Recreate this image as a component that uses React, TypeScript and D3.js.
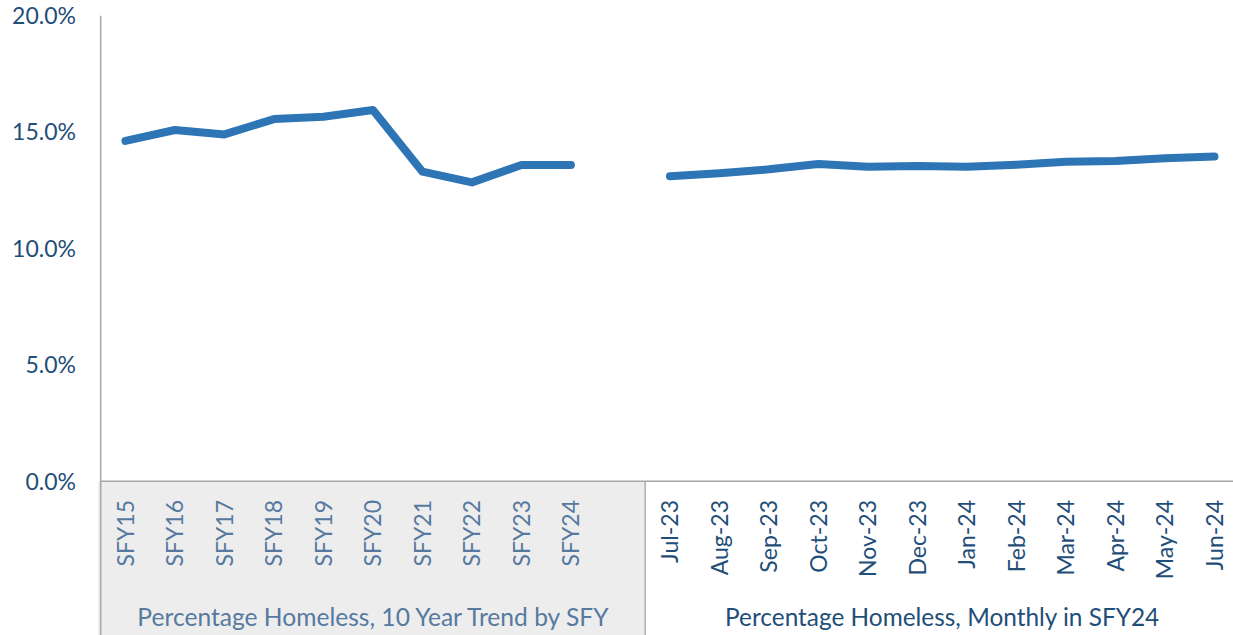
import React from "react";
import * as d3 from "d3";

const yearCategories = ["SFY15", "SFY16", "SFY17", "SFY18", "SFY19", "SFY20", "SFY21", "SFY22", "SFY23", "SFY24"];
const yearValues = [14.62, 15.09, 14.9, 15.56, 15.66, 15.95, 13.3, 12.84, 13.59, 13.59];
const monthCategories = ["Jul-23", "Aug-23", "Sep-23", "Oct-23", "Nov-23", "Dec-23", "Jan-24", "Feb-24", "Mar-24", "Apr-24", "May-24", "Jun-24"];
const monthValues = [13.1, 13.23, 13.4, 13.63, 13.51, 13.54, 13.51, 13.6, 13.73, 13.76, 13.88, 13.95];
const yTicks = [0, 5, 10, 15, 20];
const groupLabels = ["Percentage Homeless, 10 Year Trend by SFY", "Percentage Homeless, Monthly in SFY24"];

const W = 1233;
const H = 635;
const LEFT = 100.7;
const BAND = 49.5;
const TOP = 15.7;
const BASE = 481.3;

const GAP_KEY = "__gap__";
const allKeys = [...yearCategories, GAP_KEY, ...monthCategories];

type Pt = { key: string; v: number | null };
const points: Pt[] = [
  ...yearCategories.map((k, i) => ({ key: k, v: yearValues[i] })),
  { key: GAP_KEY, v: null },
  ...monthCategories.map((k, i) => ({ key: k, v: monthValues[i] })),
];

const FONT = "Lato, 'Open Sans', sans-serif";
const DARK = "#1F4E79";
const LIGHT = "#5679A0";

export default function App() {
  const x = d3.scaleBand<string>().domain(allKeys).range([LEFT, LEFT + BAND * allKeys.length]).paddingInner(0).paddingOuter(0);
  const y = d3.scaleLinear().domain([0, 20]).range([BASE, TOP]);
  const cx = (k: string) => (x(k) ?? 0) + x.bandwidth() / 2;

  const line = d3
    .line<Pt>()
    .defined((d) => d.v !== null)
    .x((d) => cx(d.key))
    .y((d) => y(d.v as number));

  const sepX = x(GAP_KEY)! + x.bandwidth();
  const leftCenter = (LEFT + sepX) / 2;
  const rightCenter = (sepX + LEFT + BAND * allKeys.length) / 2;

  return (
    <svg width={W} height={H} style={{ position: "absolute", left: 0, top: 0, display: "block" }} fontFamily={FONT}>
      <rect x={0} y={0} width={W} height={H} fill="#ffffff" />
      {/* gray box for first group */}
      <rect x={98} y={BASE} width={sepX - 98} height={H - BASE} fill="#EDEDED" />
      {/* axes */}
      <line x1={LEFT} x2={W} y1={BASE} y2={BASE} stroke="#A6A6A6" strokeWidth={1.5} />
      <line x1={LEFT} x2={LEFT} y1={TOP} y2={H} stroke="#A6A6A6" strokeWidth={1.5} />
      <line x1={sepX} x2={sepX} y1={BASE} y2={H} stroke="#B0B0B0" strokeWidth={1.5} />

      {/* y tick labels */}
      {yTicks.map((t) => (
        <text key={t} x={76} y={y(t)} dy="0.36em" textAnchor="end" fontSize={23} fill={DARK}>
          {d3.format(".1f")(t) + "%"}
        </text>
      ))}

      {/* line */}
      <path d={line(points) ?? ""} fill="none" stroke="#2E75B6" strokeWidth={8} strokeLinecap="round" strokeLinejoin="round" />

      {/* x category labels */}
      {yearCategories.map((k) => (
        <text key={k} transform={`translate(${cx(k)},500) rotate(-90)`} dy="0.36em" textAnchor="end" fontSize={23} fill={LIGHT}>
          {k}
        </text>
      ))}
      {monthCategories.map((k) => (
        <text key={k} transform={`translate(${cx(k)},500) rotate(-90)`} dy="0.36em" textAnchor="end" fontSize={23} fill={DARK}>
          {k}
        </text>
      ))}

      {/* group labels */}
      <text x={leftCenter} y={626} textAnchor="middle" fontSize={24.6} fill={LIGHT}>
        {groupLabels[0]}
      </text>
      <text x={rightCenter} y={626} textAnchor="middle" fontSize={24.4} fill={DARK}>
        {groupLabels[1]}
      </text>
    </svg>
  );
}
